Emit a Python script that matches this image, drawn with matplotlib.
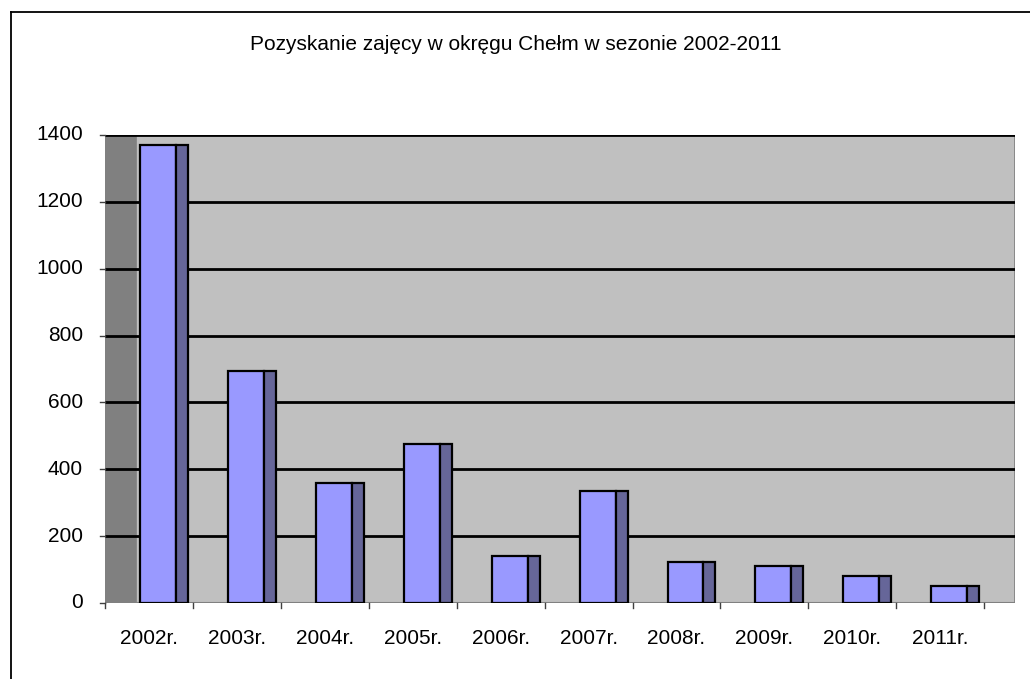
import matplotlib
matplotlib.use("Agg")
import matplotlib.pyplot as plt
from matplotlib.patches import Rectangle
from matplotlib.lines import Line2D

plt.rcParams['font.family'] = ['Liberation Sans', 'DejaVu Sans']

title = "Pozyskanie zajęcy w okręgu Chełm w sezonie 2002-2011"
years = ["2002r.", "2003r.", "2004r.", "2005r.", "2006r.",
         "2007r.", "2008r.", "2009r.", "2010r.", "2011r."]
harvest = [1370, 694, 358, 476, 140, 335, 122, 110, 80, 51]
y_ticks = [0, 200, 400, 600, 800, 1000, 1200, 1400]

W, H = 1030, 679
fig = plt.figure(figsize=(W / 100, H / 100), dpi=100)

# chart frame (only the top and left edges fall inside the image)
fig.add_artist(Line2D([10.5 / W, 10.5 / W], [0, 1 - 12 / H], color='black', lw=1.3,
                      transform=fig.transFigure))
fig.add_artist(Line2D([10.5 / W, 1], [1 - 12 / H, 1 - 12 / H], color='black', lw=1.3,
                      transform=fig.transFigure))

depth = 0.35          # depth of the pseudo-3D box in category units
n = len(years)
x0, x1 = 105, 1015
y0, y1 = 603, 135
ax = fig.add_axes([x0 / W, 1 - y0 / H, (x1 - x0) / W, (y0 - y1) / H])
ax.set_xlim(0, n + depth)
ax.set_ylim(0, y_ticks[-1])
ax.axis('off')

ymax = y_ticks[-1]
# side wall and back wall
ax.add_patch(Rectangle((0, 0), depth, ymax, facecolor='#808080', edgecolor='none', zorder=0))
ax.add_patch(Rectangle((depth, 0), n, ymax, facecolor='#c0c0c0', edgecolor='#808080',
                       lw=1.2, zorder=0))

# gridlines
ax.hlines(y_ticks[1:], 0, n + depth, colors='black', lw=2.0, zorder=1)
# floor line
ax.hlines(0, 0, n + depth, colors='#808080', lw=1.5, zorder=1)

# bars: front face and shaded side face
idx = list(range(n))
front_w = 36 / 88
side_w = 12 / 88
front_off = 35 / 88
ax.bar([i + front_off for i in idx], harvest, width=front_w, align='edge',
       color='#9999ff', edgecolor='black', lw=1.6, zorder=3)
ax.bar([i + front_off + front_w for i in idx], harvest, width=side_w, align='edge',
       color='#666699', edgecolor='black', lw=1.6, zorder=3)

# value axis ticks and labels
for v in y_ticks:
    ax.plot([-5 / 88, 0], [v, v], color='#404040', lw=1.0, clip_on=False, zorder=2)
    ax.text(-22 / 88, v, str(v), ha='right', va='center', fontsize=15, color='black')

# category axis ticks and labels
for i in range(n + 1):
    ax.plot([i, i], [0, -16], color='#404040', lw=1.0, clip_on=False, zorder=2)
for i, lab in enumerate(years):
    ax.text(i + 0.5, -105, lab, ha='center', va='center', fontsize=15, color='black')

fig.text(516 / W, 1 - 45 / H, title, ha='center', va='center', fontsize=15, color='black')

fig.savefig("out.png", dpi=100)
